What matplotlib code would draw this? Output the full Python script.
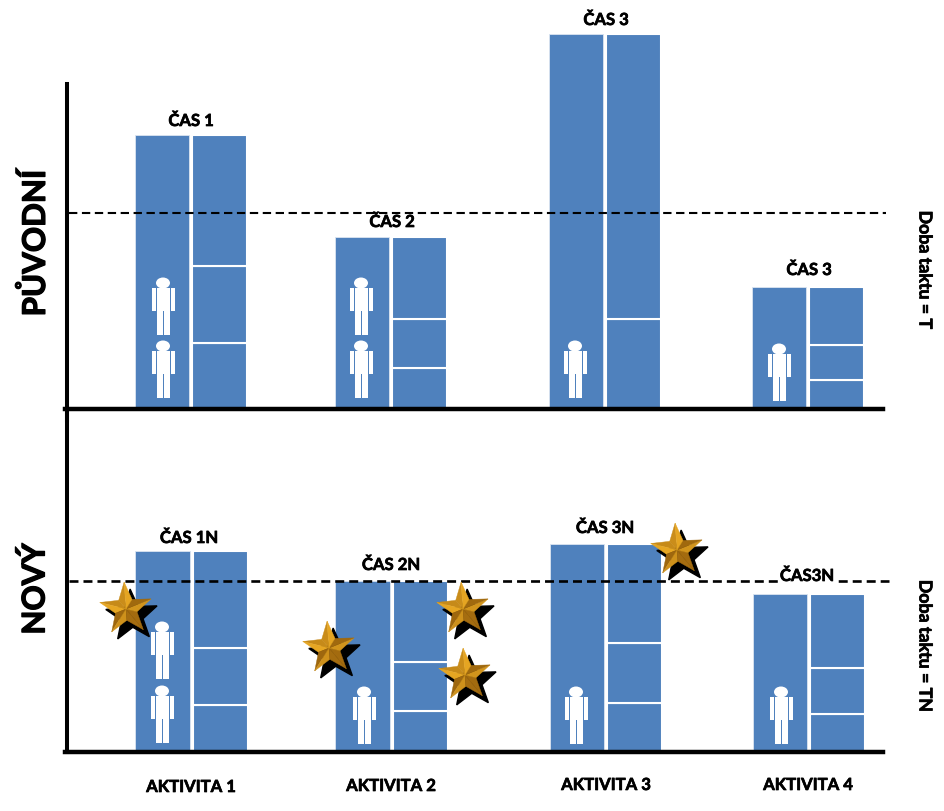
import numpy as np
import matplotlib
matplotlib.use("Agg")
import matplotlib.pyplot as plt
import matplotlib.patheffects as pe
from matplotlib.patches import Ellipse, Polygon, Rectangle

plt.rcParams['font.family'] = ['Lato', 'DejaVu Sans']

activities = ["AKTIVITA 1", "AKTIVITA 2", "AKTIVITA 3", "AKTIVITA 4"]

# bar heights, left column is the whole time of the activity
old_labels = ["ČAS 1", "ČAS 2", "ČAS 3", "ČAS 3"]
old_totals = [274, 172, 375, 122]
old_parts = [[66, 77, 131], [41, 49, 82], [90, 285], [29, 35, 58]]
old_takt = 196

new_labels = ["ČAS 1N", "ČAS 2N", "ČAS 3N", "ČAS3N"]
new_totals = [201, 171, 208, 158]
new_parts = [[47, 57, 97], [41, 49, 81], [49, 60, 99], [38, 46, 74]]
new_takt = 171

BLUE = "#4f81bd"
W, H = 945, 811
THICK = [pe.withStroke(linewidth=0.5, foreground="black")]


def draw_person(ax, x, feet):
    # small white figure, 56 px tall
    parts = [(x - 6.5, feet, 6, 24), (x + 0.5, feet, 6, 24),
             (x - 6.5, feet + 24.5, 13, 22.5), (x - 11.5, feet + 24.5, 4, 22.5),
             (x + 7.5, feet + 24.5, 4, 22.5)]
    for left, bottom, w, h in parts:
        ax.add_patch(Rectangle((left, bottom), w, h, fc="white", ec="none", zorder=4))
    ax.add_patch(Ellipse((x, feet + 52), 14, 11, fc="white", ec="none", zorder=4))


def star_points(cx, cy, r=27, inner=0.42, turn=4):
    angles = np.radians(90 + turn + np.arange(10) * 36)
    radius = np.where(np.arange(10) % 2 == 0, r, r * inner)
    return np.column_stack([cx + radius * np.cos(angles), cy + radius * np.sin(angles)])


def draw_star(ax, cx, cy):
    pts = star_points(cx, cy)
    ax.add_patch(Polygon(pts + [6, -7], fc="black", ec="black", lw=1, zorder=6))
    for i in range(10):
        a, b = pts[i], pts[(i + 1) % 10]
        mid = (a + b) / 2 - [cx, cy]
        light = (mid[1] * 0.8 - mid[0] * 0.6) / np.hypot(*mid)
        edge = b - a
        side = (edge[1] * 0.6 + edge[0] * 0.8) / np.hypot(*edge)
        t = np.clip(0.55 + 0.35 * light + 0.3 * side, 0, 1)
        col = np.array([0.50, 0.30, 0.02]) * (1 - t) + np.array([0.96, 0.70, 0.15]) * t
        ax.add_patch(Polygon([a, b, (cx, cy)], fc=col, ec=col, lw=0.3, zorder=7))


def setup_axes(ax, top):
    ax.set_xlim(0, W)
    ax.set_ylim(0, top)
    ax.patch.set_alpha(0)
    ax.set_xticks([])
    ax.set_yticks([])
    ax.spines[['top', 'right']].set_visible(False)
    ax.spines['left'].set_position(('data', 67))
    ax.spines['left'].set_linewidth(2.9)
    ax.spines['bottom'].set_linewidth(3.2)
    ax.spines['bottom'].set_bounds(65, 883)


def draw_panel(ax, centers, totals, parts, feet_list, gap=1.5):
    for c, total, stack in zip(centers, totals, parts):
        ax.bar(c - gap - 54.5, total, width=54.5, align='edge', color=BLUE,
               edgecolor="#dbe5f1", linewidth=0.6, zorder=2)
        bottom = 0
        for part in stack:
            ax.bar(c + gap, part, width=55, align='edge', bottom=bottom, color=BLUE,
                   edgecolor="white", linewidth=1.5, zorder=2)
            bottom += part
    for x, feet in feet_list:
        draw_person(ax, x, feet)


fig = plt.figure(figsize=(W / 100, H / 100), dpi=100, facecolor="white")
ax_old = fig.add_axes([0, (H - 409) / H, 1, 409 / H])
ax_new = fig.add_axes([0, (H - 752) / H, 1, 343 / H])
setup_axes(ax_old, 409)
setup_axes(ax_new, 343)
ax_old.spines['left'].set_bounds(-11, 325)
ax_new.spines['left'].set_bounds(0, 343)

old_centers = [190.5, 390.5, 604.5, 807.5]
new_centers = [191, 391, 605.5, 808.5]

old_feet = [(163, 74), (163, 11), (361, 74), (361, 11), (575, 11), (779, 8)]
new_feet = [(162, 73), (162, 9), (364, 8), (576, 8), (781, 8)]
draw_panel(ax_old, old_centers, old_totals, old_parts, old_feet)
draw_panel(ax_new, new_centers, new_totals, new_parts, new_feet)

ax_old.plot([69, 886], [old_takt, old_takt], color="black", lw=1.5,
            dashes=(4, 2.2), zorder=5)
ax_new.plot([69, 889], [new_takt, new_takt], color="black", lw=1.9,
            dashes=(3.4, 1.9), zorder=5)

label_font = dict(ha='center', va='center', fontsize=12, fontweight='bold',
                  color="black", path_effects=THICK)
old_label_pos = [(191, 288), (392, 187), (606, 389), (809, 139)]
new_label_pos = [(189, 214), (391, 187), (605, 224), (807, 176)]
for text, (x, y) in zip(old_labels, old_label_pos):
    ax_old.text(x, y, text, zorder=8, **label_font)
for text, (x, y) in zip(new_labels, new_label_pos):
    t = ax_new.text(x, y, text, zorder=8, **label_font)
    if text == "ČAS3N":
        t.set_bbox(dict(fc="white", ec="none", pad=0.3))

for text, x, y in zip(activities, [191, 391, 606, 808], [-35, -34, -33, -33]):
    ax_new.text(x, y, text, zorder=8, **label_font)

side_font = dict(rotation=90, ha='center', va='center', fontsize=22.5, fontweight='bold',
                 path_effects=[pe.withStroke(linewidth=0.9, foreground="black")])
ax_old.text(35, 166, "PŮVODNÍ", **side_font)
ax_new.text(35, 163, "NOVÝ", **side_font)

takt_font = dict(rotation=270, ha='center', va='center', fontsize=12.8, fontweight='bold',
                 path_effects=THICK)
ax_old.text(925, 139, "Doba taktu = T", **takt_font)
ax_new.text(925, 106, "Doba taktu = TN", **takt_font)

for x, y in [(126, 143), (329, 104), (463, 143), (465, 77), (677, 202)]:
    draw_star(ax_new, x, y)

for ax in (ax_old, ax_new):
    for artist in ax.patches + ax.lines + ax.texts:
        artist.set_clip_on(False)

fig.savefig("out.png", dpi=100)
